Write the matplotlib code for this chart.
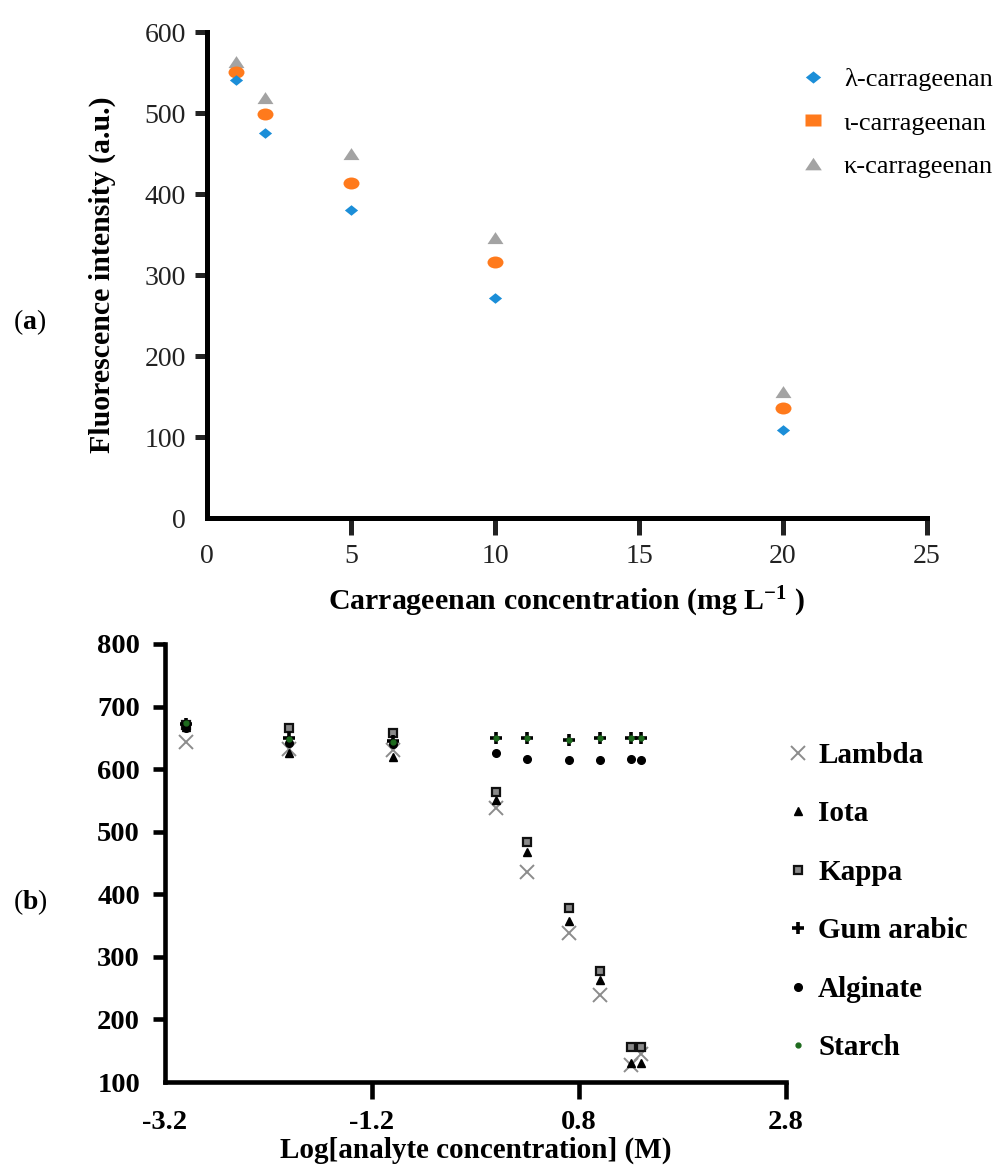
import matplotlib
matplotlib.use("Agg")
import matplotlib.pyplot as plt
from matplotlib.lines import Line2D
from matplotlib.path import Path
from matplotlib.transforms import Affine2D

plt.rcParams['font.family'] = ['Liberation Serif', 'DejaVu Serif']
plt.rcParams['mathtext.fontset'] = 'custom'
plt.rcParams['mathtext.rm'] = 'Liberation Serif'
plt.rcParams['mathtext.bf'] = 'Liberation Serif:bold'
plt.rcParams['mathtext.it'] = 'Liberation Serif:italic'

# panel (a) data
conc_a = [1, 2, 5, 10, 20]
lambda_a = [541, 475, 380, 272, 109]
iota_a = [551, 499, 414, 316, 136]
kappa_a = [563, 519, 449, 346, 156]
names_a = ['λ-carrageenan', 'ι-carrageenan', 'κ-carrageenan']

# panel (b) data
log_b = [-3, -2, -1, 0, 0.301, 0.699, 1, 1.301, 1.398]
lambda_b = [644, 632, 630, 538, 436, 338, 239, 128, 145]
iota_b = [668, 626, 620, 550, 468, 358, 263, 130, 130]
kappa_b = [670, 666, 658, 564, 484, 378, 278, 156, 156]
gum_b = [672, 650, 645, 650, 650, 646, 650, 650, 650]
alginate_b = [665, 642, 640, 626, 617, 615, 615, 617, 614]
starch_b = [674, 648, 644, 650, 650, 646, 650, 650, 650]
names_b = ['Lambda', 'Iota', 'Kappa', 'Gum arabic', 'Alginate', 'Starch']

col_lam = '#1b8ed8'
col_iota = '#ff7a1c'
col_kap = '#a3a3a3'

# flattened marker shapes like the excel export
diamond = Path([(-1, 0), (0, 0.8), (1, 0), (0, -0.8), (-1, 0)], closed=True)
ellipse = Path.unit_circle().transformed(Affine2D().scale(1, 0.75))
tri = Path([(-1, -0.7), (1, -0.7), (0, 0.8), (-1, -0.7)], closed=True)
rect = Path([(-1, -0.8), (1, -0.8), (1, 0.8), (-1, 0.8), (-1, -0.8)], closed=True)

fig = plt.figure(figsize=(10, 11.66), dpi=100)

# ---- (a)
ax = fig.add_axes([0.207, 0.5557, 0.72, 0.4168])
ax.plot(conc_a, kappa_a, linestyle='none', marker=tri, ms=11.5, color=col_kap, mec='none')
ax.plot(conc_a, iota_a, linestyle='none', marker=ellipse, ms=11.5, color=col_iota, mec='none')
ax.plot(conc_a, lambda_a, linestyle='none', marker=diamond, ms=9.5, color=col_lam, mec='none')
ax.set_xlim(0, 25)
ax.set_ylim(0, 600)
ax.set_xticks([0, 5, 10, 15, 20, 25])
ax.set_yticks([0, 100, 200, 300, 400, 500, 600])
for s in ['top', 'right']:
    ax.spines[s].set_visible(False)
for s in ['left', 'bottom']:
    ax.spines[s].set_linewidth(3.6)
ax.tick_params(axis='y', length=9, width=3.6, pad=6, labelsize=20, colors='#222222')
ax.tick_params(axis='x', length=12, width=3.6, pad=7, labelsize=20, colors='#222222')
ax.xaxis.get_major_ticks()[0].tick1line.set_visible(False)
ax.yaxis.get_major_ticks()[0].tick1line.set_visible(False)
ax.set_ylabel('Fluorescence intensity (a.u.)', fontsize=21.5, fontweight='bold', labelpad=21)
ax.set_xlabel('Carrageenan concentration (mg L$^{\\mathbf{-1}}$ )', fontsize=21.5,
              fontweight='bold', labelpad=11)

h_a = [Line2D([], [], linestyle='none', marker=diamond, ms=11, color=col_lam, mec='none'),
       Line2D([], [], linestyle='none', marker=rect, ms=11, color=col_iota, mec='none'),
       Line2D([], [], linestyle='none', marker=tri, ms=12, color=col_kap, mec='none')]
ax.legend(h_a, names_a, loc='upper left', bbox_to_anchor=(0.7976, 0.9417),
          bbox_transform=fig.transFigure, frameon=False, fontsize=19,
          handlelength=1.2, handletextpad=0.55, labelspacing=0.75, borderpad=0,
          borderaxespad=0)
fig.text(0.030, 0.7238, '($\\mathbf{a}$)', fontsize=20, ha='center', va='center')

# ---- (b)
bx = fig.add_axes([0.165, 0.072, 0.621, 0.3757])
bx.plot(log_b, lambda_b, linestyle='none', marker='x', ms=10, mew=1.4, color='#8c8c8c')
bx.plot(log_b, iota_b, linestyle='none', marker='^', ms=5.5, color='black')
bx.plot(log_b, kappa_b, linestyle='none', marker='s', ms=5.5, mfc='#8a8a8a', mec='#111111', mew=1.6)
bx.plot(log_b, gum_b, linestyle='none', marker='+', ms=9, mew=2.6, color='black')
bx.plot(log_b, alginate_b, linestyle='none', marker='o', ms=5.5, color='black')
bx.plot(log_b, starch_b, linestyle='none', marker='o', ms=3.5, color='#1e6b1e')
bx.set_xlim(-3.2, 2.8)
bx.set_ylim(100, 800)
bx.set_xticks([-3.2, -1.2, 0.8, 2.8])
bx.set_xticklabels(['-3.2', '-1.2', '0.8', '2.8'])
bx.set_yticks([100, 200, 300, 400, 500, 600, 700, 800])
for s in ['top', 'right']:
    bx.spines[s].set_visible(False)
for s in ['left', 'bottom']:
    bx.spines[s].set_linewidth(3.3)
bx.tick_params(axis='y', length=9, width=3.3, pad=9, labelsize=20.5)
bx.tick_params(axis='x', length=12, width=3.3, pad=8, labelsize=20.5)
for t in bx.get_xticklabels() + bx.get_yticklabels():
    t.set_fontweight('bold')
bx.xaxis.get_major_ticks()[0].tick1line.set_visible(False)
bx.yaxis.get_major_ticks()[0].tick1line.set_visible(False)
bx.set_xlabel('Log[analyte concentration] (M)', fontsize=21, fontweight='bold', labelpad=1)

h_b = [Line2D([], [], linestyle='none', marker='x', ms=10, mew=1.4, color='#8c8c8c'),
       Line2D([], [], linestyle='none', marker='^', ms=5.5, color='black'),
       Line2D([], [], linestyle='none', marker='s', ms=5.5, mfc='#8a8a8a', mec='#111111', mew=1.6),
       Line2D([], [], linestyle='none', marker='+', ms=9, mew=2.6, color='black'),
       Line2D([], [], linestyle='none', marker='o', ms=5.5, color='black'),
       Line2D([], [], linestyle='none', marker='o', ms=3.5, color='#1e6b1e')]
bx.legend(h_b, names_b, loc='upper left', bbox_to_anchor=(0.7864, 0.3637),
          bbox_transform=fig.transFigure, frameon=False, prop={'size': 21, 'weight': 'bold'},
          handlelength=0.8, handletextpad=0.29, labelspacing=1.08, borderpad=0,
          borderaxespad=0)
fig.text(0.030, 0.2264, '($\\mathbf{b}$)', fontsize=20, ha='center', va='center')

fig.savefig('out.png', dpi=100)
